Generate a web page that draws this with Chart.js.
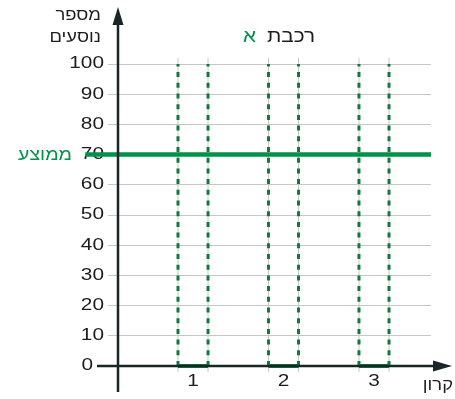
<!DOCTYPE html>
<html>
<head>
<meta charset="utf-8">
<script src="https://cdn.jsdelivr.net/npm/chart.js@4/dist/chart.umd.min.js"></script>
<style>
html,body{margin:0;padding:0;background:#fff;}
canvas{display:block;}
</style>
</head>
<body>
<canvas id="c" width="455" height="399"></canvas>
<script>
// ---- data ----
const categories = ['1', '2', '3'];
const carPositions = [1, 2, 3];
const passengers = [0, 0, 0];
const meanValue = 70;
const yTickValues = [0, 10, 20, 30, 40, 50, 60, 70, 80, 90, 100];
const yMax = 100;
const titleMain = 'רכבת';
const titleLetter = 'א';
const yLabelLines = ['מספר', 'נוסעים'];
const meanLabel = 'ממוצע';
const xLabel = 'קרון';

// ---- styling ----
const GREEN = '#00924a';
const DGREEN = '#0f7a3e';
const GREY = '#c6c6c6';
const INK = '#1d1d1d';
const AXIS = '#1a2626';
const DIGIT_STRETCH = 1.3;
const HEB_STRETCH = 1.15;
const HALF = 0.166;
const X_MIN = 0.171, X_MAX = 3.63;
const MEAN_X0 = -0.19;
const FONT = '"Liberation Sans", Arial, sans-serif';

const datasets = [];
carPositions.forEach((p, i) => {
  [p - HALF, p + HALF].forEach(e => {
    datasets.push({ data: [{x: e, y: -2}, {x: e, y: yMax + 2}], borderColor: GREY, borderWidth: 1, order: 5 });
    datasets.push({ data: [{x: e, y: passengers[i]}, {x: e, y: yMax}], borderColor: DGREEN, borderWidth: 3, borderDash: [5, 5.7], borderCapStyle: 'butt', order: 3 });
  });
  datasets.push({ data: [{x: p - HALF, y: passengers[i]}, {x: p + HALF, y: passengers[i]}], borderColor: DGREEN, borderWidth: 4, order: 2 });
});
datasets.push({ data: [{x: MEAN_X0, y: meanValue}, {x: X_MAX, y: meanValue}], borderColor: GREEN, borderWidth: 4.5, borderCapStyle: 'butt', order: 1 });
datasets.forEach(d => { d.showLine = true; d.pointRadius = 0; d.pointHoverRadius = 0; d.pointHitRadius = 0; d.fill = false; d.clip = false; d.tension = 0; });

let stretch = DIGIT_STRETCH;
const stretchText = {
  id: 'stretchText',
  beforeInit(chart) {
    const ctx = chart.ctx;
    const orig = ctx.fillText.bind(ctx);
    ctx.fillText = function (t, x, y, mw) {
      ctx.save();
      ctx.translate(x, y);
      ctx.scale(stretch, 1);
      orig(t, 0, 0);
      ctx.restore();
    };
  }
};

const decor = {
  id: 'decor',
  afterDraw(chart) {
    const ctx = chart.ctx;
    const ys = chart.scales.y;
    const ax = chart.chartArea.left;
    const ay = ys.getPixelForValue(0);
    ctx.save();
    ctx.strokeStyle = AXIS; ctx.fillStyle = AXIS; ctx.lineWidth = 2.5;
    // y axis
    ctx.beginPath(); ctx.moveTo(ax, 392); ctx.lineTo(ax, 22); ctx.stroke();
    ctx.beginPath(); ctx.moveTo(ax, 7); ctx.lineTo(ax - 5.5, 25); ctx.lineTo(ax + 5.5, 25); ctx.closePath(); ctx.fill();
    // x axis
    ctx.beginPath(); ctx.moveTo(97, ay); ctx.lineTo(436, ay); ctx.stroke();
    ctx.beginPath(); ctx.moveTo(452, ay); ctx.lineTo(433, ay - 5.5); ctx.lineTo(433, ay + 5.5); ctx.closePath(); ctx.fill();

    ctx.textBaseline = 'middle';
    // zero label (offset left of the x-axis line)
    stretch = DIGIT_STRETCH;
    ctx.font = '16px ' + FONT;
    ctx.fillStyle = INK; ctx.textAlign = 'right';
    ctx.fillText(String(yTickValues[0]), 93, ay);

    stretch = HEB_STRETCH;
    ctx.direction = 'rtl';
    // y label
    ctx.font = '16px ' + FONT;
    ctx.fillStyle = INK; ctx.textAlign = 'right';
    ctx.fillText(yLabelLines[0], 101, 16);
    ctx.fillText(yLabelLines[1], 101, 38);
    // title
    ctx.font = '18px ' + FONT;
    ctx.textAlign = 'right';
    ctx.fillText(titleMain, 315, 37);
    ctx.fillStyle = GREEN; ctx.textAlign = 'left';
    ctx.direction = 'ltr';
    ctx.fillText(titleLetter, 243, 37);
    // mean label
    ctx.direction = 'rtl';
    ctx.font = '17px ' + FONT;
    ctx.fillStyle = GREEN; ctx.textAlign = 'right';
    ctx.fillText(meanLabel, 72, ys.getPixelForValue(meanValue) + 1);
    // x label
    ctx.font = '16px ' + FONT;
    ctx.fillStyle = INK; ctx.textAlign = 'right';
    ctx.fillText(xLabel, 453, 386);
    ctx.restore();
    stretch = DIGIT_STRETCH;
  }
};

new Chart(document.getElementById('c'), {
  type: 'scatter',
  data: { datasets },
  plugins: [stretchText, decor],
  options: {
    responsive: false,
    animation: false,
    events: [],
    layout: { padding: { left: 0, right: 24, top: 64, bottom: 0 } },
    plugins: { legend: { display: false }, tooltip: { enabled: false }, title: { display: false } },
    scales: {
      x: {
        type: 'linear', min: X_MIN, max: X_MAX,
        grid: { display: false, drawTicks: false },
        border: { display: false },
        afterBuildTicks(s) { s.ticks = carPositions.map(v => ({ value: v })); },
        afterFit(s) { s.height = 33; },
        ticks: {
          padding: 6,
          color: INK,
          font: { family: FONT, size: 16 },
          callback(v) { const i = carPositions.indexOf(v); return i >= 0 ? categories[i] : ''; }
        }
      },
      y: {
        type: 'linear', min: 0, max: yMax, z: 1,
        afterBuildTicks(s) { s.ticks = yTickValues.map(v => ({ value: v })); },
        afterFit(s) { s.width = 118; },
        border: { display: false },
        grid: {
          color: c => (c.tick && c.tick.value === meanValue) ? 'rgba(0,0,0,0)' : GREY,
          lineWidth: 1, tickLength: 10, drawTicks: true
        },
        ticks: {
          padding: 4,
          color: INK,
          font: { family: FONT, size: 16 },
          callback(v) { return v === yTickValues[0] ? '' : String(v); }
        }
      }
    }
  }
});
</script>
</body>
</html>
